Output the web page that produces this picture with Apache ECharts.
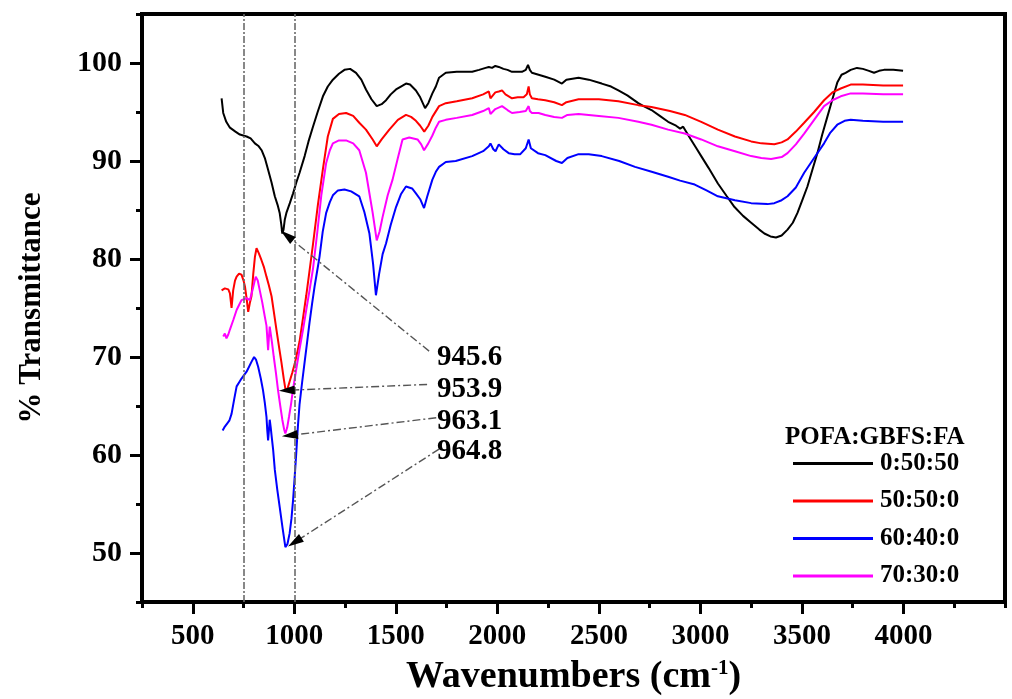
<!DOCTYPE html>
<html>
<head>
<meta charset="utf-8">
<script src="https://cdn.jsdelivr.net/npm/echarts@6/dist/echarts.min.js"></script>
<style>
html,body{margin:0;padding:0;background:#fff;}
#chart{width:1012px;height:699px;}
</style>
</head>
<body>
<div id="chart"></div>
<script>
// ---- data ----
const seriesNames = ['0:50:50', '50:50:0', '60:40:0', '70:30:0'];
const seriesColors = ['#000000', '#ff0000', '#0000ff', '#ff00ff'];

const blackX = [642,650,665,683,710,732,765,785,806,825,839,855,871,888,904,918,928,936,941,947,953,961,978,994,1010,1026,1051,1070,1092,1115,1141,1165,1190,1220,1247,1275,1304,1330,1353,1380,1406,1430,1452,1475,1501,1525,1550,1570,1599,1620,1644,1660,1680,1697,1713,1746,1800,1876,1910,1942,1958,1974,1990,2007,2030,2050,2072,2105,2121,2140,2151,2160,2170,2203,2236,2280,2318,2340,2400,2450,2514,2560,2596,2640,2694,2720,2759,2800,2841,2880,2900,2915,2923,2950,2980,3004,3040,3086,3130,3168,3210,3250,3290,3315,3345,3372,3400,3429,3455,3478,3500,3527,3550,3576,3600,3625,3650,3674,3695,3715,3740,3771,3800,3830,3855,3880,3904,3950,3998];
const blackY = [96.4,94.9,94.0,93.4,93.0,92.7,92.5,92.3,91.8,91.5,91.1,90.3,89.1,87.8,86.4,85.5,84.7,83.5,82.6,83.0,84.0,84.7,85.7,86.7,87.8,88.8,90.5,92.0,93.5,95.0,96.6,97.6,98.3,98.9,99.3,99.4,99.0,98.3,97.3,96.3,95.6,95.8,96.2,96.8,97.3,97.6,97.9,97.8,97.2,96.5,95.4,95.9,96.9,97.6,98.5,99.0,99.1,99.1,99.3,99.5,99.6,99.5,99.7,99.6,99.4,99.3,99.1,99.1,99.1,99.3,99.8,99.3,99.0,98.8,98.6,98.3,97.9,98.3,98.5,98.3,97.9,97.6,97.2,96.7,95.9,95.6,95.2,94.6,94.0,93.6,93.3,93.5,93.4,92.3,91.3,90.5,89.3,87.7,86.4,85.3,84.4,83.7,83.0,82.6,82.3,82.2,82.4,83.0,83.7,84.7,85.9,87.4,89.0,90.8,92.7,94.5,96.3,98.0,98.8,99.0,99.3,99.5,99.4,99.2,99.0,99.2,99.3,99.3,99.2];

const redX = [642,658,675,683,691,699,708,716,728,740,750,757,765,773,781,789,798,806,814,825,838,850,863,875,888,900,912,925,937,948,958,967,977,990,1002,1014,1026,1043,1059,1075,1092,1116,1141,1165,1190,1220,1255,1290,1320,1353,1386,1406,1430,1468,1510,1550,1575,1599,1620,1640,1660,1680,1713,1746,1800,1876,1930,1958,1966,1974,1990,2007,2023,2040,2056,2072,2100,2129,2145,2154,2160,2170,2200,2236,2280,2318,2340,2400,2500,2596,2694,2759,2850,2923,3004,3086,3170,3250,3300,3364,3400,3429,3470,3511,3560,3609,3650,3691,3740,3800,3900,3998];
const redY = [76.8,77.0,76.9,76.5,75.0,76.8,77.8,78.2,78.5,78.4,77.8,77.2,76.0,74.6,75.5,76.2,78.5,80.2,81.1,80.6,79.9,79.2,78.2,77.3,76.2,74.5,72.8,71.0,69.4,67.8,66.5,66.8,67.5,68.4,69.3,70.4,71.6,74.0,76.3,78.8,81.5,85.5,89.2,92.5,94.3,94.8,94.9,94.6,93.9,93.2,92.2,91.5,92.2,93.2,94.2,94.7,94.5,94.1,93.6,93.0,93.6,94.5,95.6,95.9,96.1,96.4,96.8,97.1,96.4,96.6,97.0,97.1,97.2,96.8,96.6,96.4,96.5,96.5,96.8,97.6,96.8,96.4,96.3,96.2,96.0,95.7,96.0,96.3,96.3,96.1,95.7,95.5,95.1,94.7,94.0,93.2,92.5,92.0,91.8,91.7,91.9,92.2,93.0,93.9,95.0,96.2,97.0,97.4,97.8,97.8,97.7,97.7];

const blueX = [647,658,667,680,691,705,716,728,740,765,789,802,812,822,835,846,855,863,867,871,875,879,884,888,896,904,916,928,942,956,966,977,986,994,1002,1010,1018,1026,1039,1051,1063,1075,1088,1100,1112,1124,1140,1157,1175,1190,1215,1247,1280,1320,1345,1370,1388,1402,1418,1435,1452,1475,1501,1525,1550,1558,1580,1599,1620,1639,1655,1680,1697,1713,1746,1795,1876,1930,1958,1966,1980,1991,2007,2030,2056,2085,2113,2140,2154,2165,2170,2200,2236,2290,2318,2345,2400,2450,2514,2600,2678,2760,2841,2900,2972,3030,3086,3170,3250,3330,3364,3400,3429,3470,3511,3560,3609,3640,3674,3710,3740,3800,3900,3998];
const blueY = [62.5,62.9,63.0,63.5,64.2,65.8,67.0,67.4,67.8,68.5,69.5,70.0,69.7,69.0,67.8,66.6,65.3,63.9,62.5,61.5,62.5,63.6,62.8,62.0,60.5,58.5,56.5,54.7,52.6,50.6,50.9,52.0,53.5,55.4,57.8,60.3,63.0,65.2,67.5,69.5,71.5,73.5,75.5,77.2,78.7,80.2,82.8,84.7,85.8,86.5,87.0,87.1,86.9,86.4,84.8,82.6,79.5,76.3,78.5,80.5,81.6,83.5,85.3,86.6,87.4,87.6,87.2,86.7,86.1,85.2,86.4,88.1,88.9,89.4,89.9,90.0,90.5,91.0,91.5,91.8,91.2,91.0,91.7,91.2,90.8,90.7,90.7,91.3,92.2,91.3,91.1,90.8,90.6,90.0,89.8,90.3,90.7,90.7,90.5,90.0,89.4,88.9,88.4,88.0,87.6,87.0,86.4,86.0,85.7,85.6,85.7,86.0,86.4,87.3,88.8,90.3,91.8,92.9,93.7,94.1,94.2,94.1,94.0,94.0];

const magX = [650,658,666,675,683,700,716,728,740,765,781,794,810,820,830,842,855,863,871,875,879,890,899,910,920,931,941,950,956,965,974,984,993,1010,1026,1043,1059,1075,1092,1112,1133,1157,1175,1190,1220,1255,1290,1320,1353,1386,1406,1420,1435,1460,1484,1510,1533,1566,1607,1625,1639,1660,1680,1697,1713,1746,1800,1876,1930,1958,1966,1974,1990,2023,2050,2072,2110,2140,2154,2160,2170,2203,2236,2280,2318,2345,2400,2500,2596,2694,2759,2841,2923,3004,3086,3170,3250,3300,3348,3400,3429,3470,3511,3560,3609,3650,3691,3740,3800,3900,3998];
const magY = [72.1,72.4,71.9,72.3,72.8,73.8,74.8,75.3,75.8,76.0,75.8,76.8,78.2,77.8,76.8,75.6,74.1,73.2,70.7,72.0,73.1,71.5,70.0,68.3,66.6,65.0,63.6,62.6,62.2,62.8,63.9,65.2,66.6,68.8,70.8,72.8,74.8,76.8,79.0,82.5,86.5,89.8,91.1,91.8,92.1,92.1,91.8,91.1,88.8,84.7,81.9,82.8,84.3,86.5,88.1,90.3,92.2,92.4,92.2,91.7,91.1,91.8,92.6,93.4,94.0,94.2,94.4,94.7,95.1,95.4,94.8,94.9,95.3,95.6,95.2,94.9,95.0,95.1,95.6,95.1,94.9,94.9,94.7,94.5,94.4,94.7,94.8,94.6,94.4,94.0,93.7,93.2,92.8,92.2,91.5,91.0,90.5,90.3,90.2,90.4,90.8,91.7,92.8,94.2,95.6,96.2,96.6,96.9,96.9,96.8,96.8];

const xTickLabels = [500,1000,1500,2000,2500,3000,3500,4000];
const yTickLabels = [50,60,70,80,90,100];
const refLines = [750, 1000];

// peak annotations: label text, label anchor, arrow start, arrow tip (data coords)
const annText = ['945.6', '953.9', '963.1', '964.8'];
const annLabelX = [1700, 1700, 1700, 1700];
const annLabelY = [69.9, 66.7, 63.4, 60.4];
const annStartX = [1664, 1654, 1699, 1713];
const annStartY = [70.6, 67.2, 63.8, 60.6];
const annTipX = [963, 963, 978, 1002];
const annTipY = [82.4, 66.6, 62.0, 51.1];

// ---- chart ----
const FONT = "'Liberation Serif', 'Times New Roman', serif";
const zip = (xs, ys) => xs.map((x, i) => [x, ys[i]]);
const curves = [[blackX, blackY], [redX, redY], [blueX, blueY], [magX, magY]];

const chart = echarts.init(document.getElementById('chart'), null, {renderer: 'canvas'});

const series = curves.map((c, i) => ({
  name: seriesNames[i],
  type: 'line',
  xAxisIndex: 0, yAxisIndex: 0,
  data: zip(c[0], c[1]),
  showSymbol: false,
  symbol: 'none',
  smooth: false,
  lineStyle: {color: seriesColors[i], width: 2},
  itemStyle: {color: seriesColors[i]},
  z: 3,
  animation: false
}));

// reference dashed vertical lines
series.push({
  name: 'ref', type: 'line', data: [], xAxisIndex: 0, yAxisIndex: 0,
  markLine: {
    silent: true, symbol: ['none', 'none'], animation: false,
    label: {show: false},
    lineStyle: {color: '#6b6b6b', width: 1.6, type: [7, 2, 2, 2]},
    data: refLines.map(v => ({xAxis: v}))
  }
});

// annotation arrows: dashed gray shafts
series.push({
  name: 'arrowShafts', type: 'line', data: [], xAxisIndex: 0, yAxisIndex: 0,
  markLine: {
    silent: true, animation: false,
    symbol: ['none', 'none'],
    label: {show: false},
    lineStyle: {color: '#555555', width: 1.4, type: [8, 3, 2, 3]},
    data: annText.map((t, i) => [
      {coord: [annStartX[i], annStartY[i]]},
      {coord: [annTipX[i], annTipY[i]]}
    ])
  }
});
// black arrow heads (short solid segment ending at the tip)
series.push({
  name: 'arrowHeads', type: 'line', data: [], xAxisIndex: 0, yAxisIndex: 0, z: 5,
  markLine: {
    silent: true, animation: false,
    symbol: ['none', 'triangle'], symbolSize: [9, 16],
    label: {show: false},
    lineStyle: {color: '#000000', width: 1.4, type: 'solid'},
    data: annText.map((t, i) => [
      {coord: [annTipX[i] + (annStartX[i] - annTipX[i]) * 0.03, annTipY[i] + (annStartY[i] - annTipY[i]) * 0.03]},
      {coord: [annTipX[i], annTipY[i]]}
    ])
  }
});

// annotation labels
series.push({
  name: 'annot', type: 'scatter', xAxisIndex: 0, yAxisIndex: 0,
  symbolSize: 1, silent: true, animation: false,
  itemStyle: {color: 'rgba(0,0,0,0)', opacity: 1},
  data: annText.map((t, i) => [annLabelX[i], annLabelY[i], t]),
  label: {
    show: true, position: 'right', distance: 0, opacity: 1,
    formatter: p => p.value[2],
    fontFamily: FONT, fontWeight: 'bold', fontSize: 29, color: '#000'
  }
});

const axisCommon = {
  type: 'value', min: 250, max: 4500, interval: 250
};
const plainNum = v => String(v);

chart.setOption({
  backgroundColor: '#ffffff',
  animation: false,
  grid: {left: 142, right: 7, top: 14, bottom: 97, containLabel: false, outerBoundsMode: 'none', show: true, borderColor: '#000', borderWidth: 4, backgroundColor: 'transparent'},
  title: {
    text: 'POFA:GBFS:FA', left: 780, top: 420,
    textStyle: {fontFamily: FONT, fontWeight: 'bold', fontSize: 25, color: '#000'}
  },
  legend: {
    data: seriesNames,
    orient: 'vertical', left: 788, top: 446,
    icon: 'rect', itemWidth: 80, itemHeight: 3, itemGap: 12.5,
    textStyle: {fontFamily: FONT, fontWeight: 'bold', fontSize: 25, color: '#000', lineHeight: 24, padding: [0, 0, 0, 2]}
  },
  xAxis: [
    Object.assign({}, axisCommon, {
      position: 'bottom',
      axisLine: {show: true, onZero: false, lineStyle: {color: '#000', width: 4}},
      axisTick: {show: true, length: 6, lineStyle: {color: '#000', width: 3}},
      axisLabel: {show: false},
      splitLine: {show: false},
      name: 'Wavenumbers (cm{sup|-1})',
      nameLocation: 'middle', nameGap: 56,
      nameTextStyle: {
        fontFamily: FONT, fontWeight: 'bold', fontSize: 38, color: '#000',
        rich: {sup: {fontFamily: FONT, fontWeight: 'bold', fontSize: 21, color: '#000', verticalAlign: 'top', padding: [0, 0, 15, 0]}}
      }
    }),
    Object.assign({}, axisCommon, {
      position: 'bottom',
      axisLine: {show: false, onZero: false},
      axisTick: {show: true, length: 12, customValues: xTickLabels, lineStyle: {color: '#000', width: 3}},
      axisLabel: {show: true, customValues: xTickLabels, formatter: plainNum, margin: 20, fontFamily: FONT, fontWeight: 'bold', fontSize: 29, color: '#000'},
      splitLine: {show: false}
    })
  ],
  yAxis: [
    {
      type: 'value', min: 45, max: 105, interval: 5,
      position: 'left',
      axisLine: {show: true, onZero: false, lineStyle: {color: '#000', width: 4}},
      axisTick: {show: true, length: 6, lineStyle: {color: '#000', width: 3}},
      axisLabel: {show: false},
      splitLine: {show: false},
      name: '% Transmittance',
      nameLocation: 'middle', nameGap: 95, nameRotate: 90,
      nameTextStyle: {fontFamily: FONT, fontWeight: 'bold', fontSize: 31, color: '#000'}
    },
    {
      type: 'value', min: 45, max: 105, interval: 5,
      position: 'left',
      axisLine: {show: false, onZero: false},
      axisTick: {show: true, length: 12, customValues: yTickLabels, lineStyle: {color: '#000', width: 3}},
      axisLabel: {show: true, customValues: yTickLabels, formatter: plainNum, margin: 20, fontFamily: FONT, fontWeight: 'bold', fontSize: 30, color: '#000'},
      splitLine: {show: false}
    }
  ],
  series: series
});
</script>
</body>
</html>
